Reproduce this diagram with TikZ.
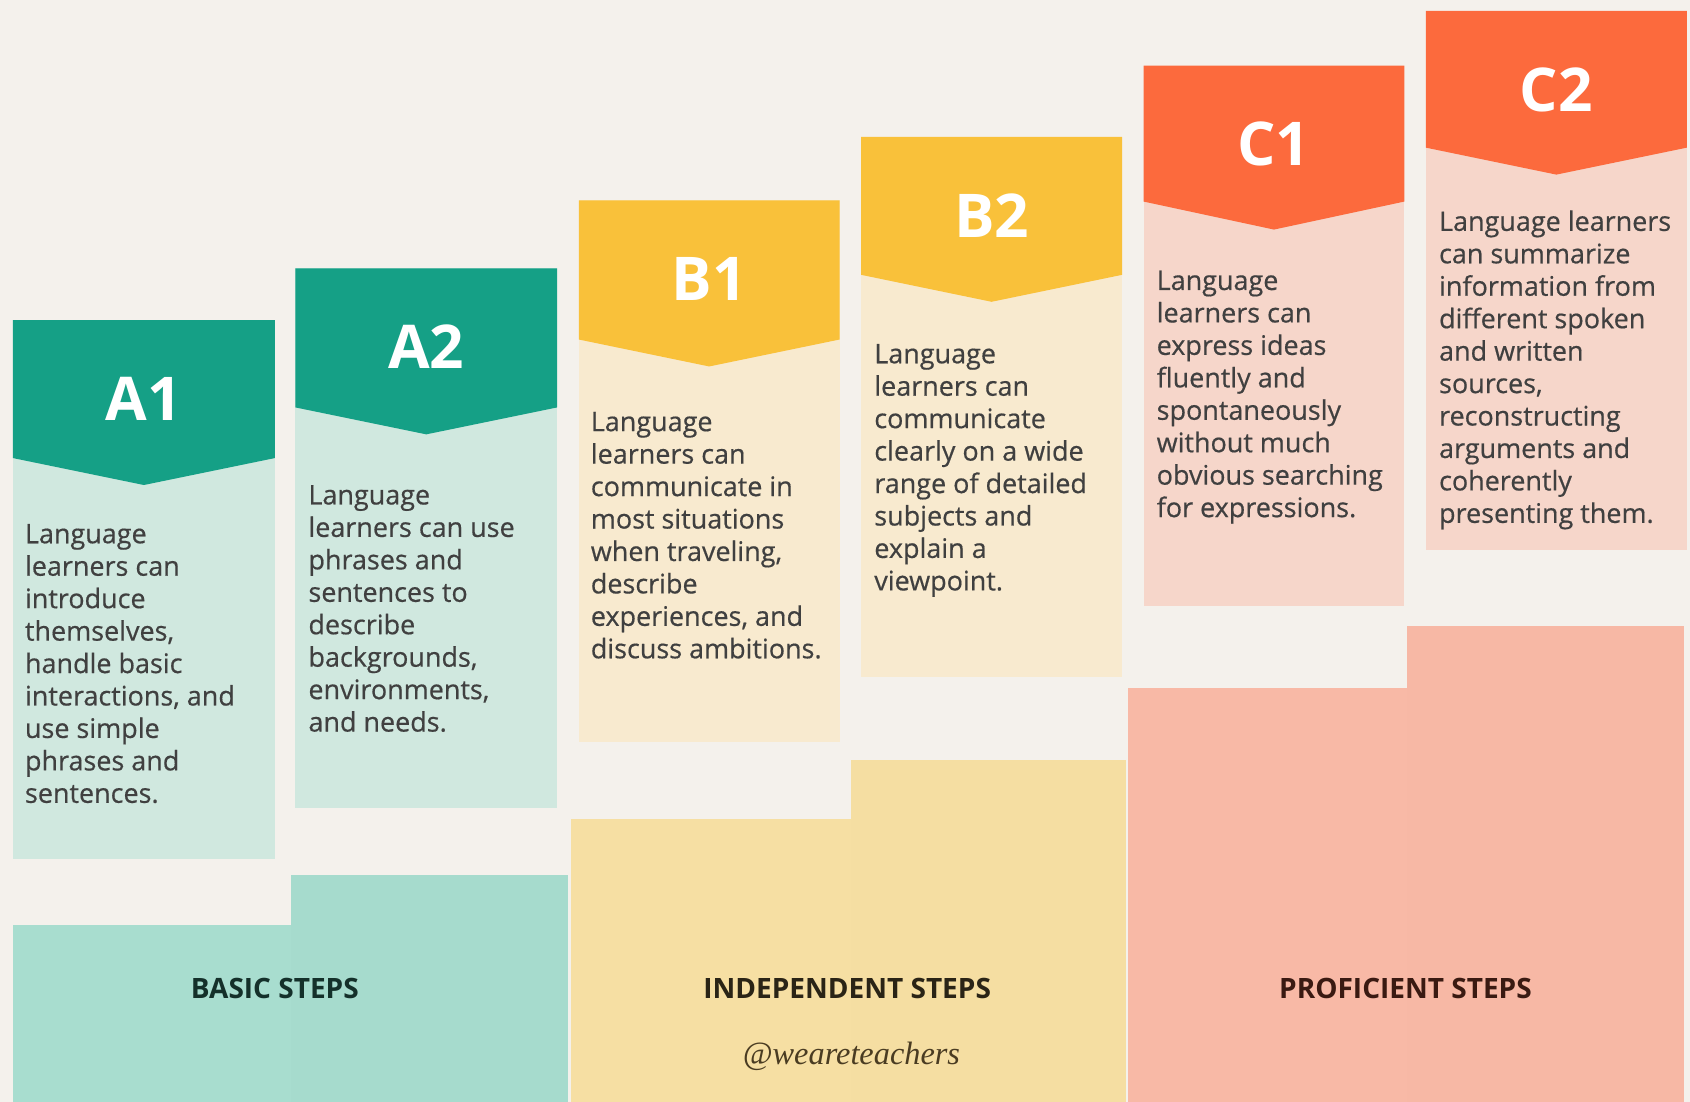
\documentclass[tikz,border=0pt]{standalone}
\usepackage{fontspec}
\setmainfont{Open Sans}
\newfontfamily\bodyfont[FakeBold=0.5]{Open Sans}
\newfontfamily\handfont{Liberation Serif}
\definecolor{bgc}{HTML}{F4F1EC}
\definecolor{tealD}{HTML}{15A086}
\definecolor{tealL}{HTML}{D0E8DF}
\definecolor{tealB}{HTML}{A8DDCF}
\definecolor{yelD}{HTML}{F9C13A}
\definecolor{yelL}{HTML}{F8EACF}
\definecolor{yelB}{HTML}{F6DFA3}
\definecolor{oraD}{HTML}{FC6A3D}
\definecolor{oraL}{HTML}{F6D6CA}
\definecolor{oraB}{HTML}{F8B9A6}
\definecolor{bodytxt}{HTML}{404040}
\definecolor{basicT}{HTML}{14302A}
\definecolor{indepT}{HTML}{2A2416}
\definecolor{profT}{HTML}{3A1A12}
\definecolor{handT}{HTML}{4A3C22}
\newcommand\mycol[9]{%
  \fill[#8] (#1,#3) rectangle (#2,#6);
  \fill[#7] (#1,#3) -- (#2,#3) -- (#2,#4) -- ({(#1+#2)/2},#5) -- (#1,#4) -- cycle;
  \node[lvl] (#9) at ({(#1+#2)/2},{#3+73}) {#9};
}
\begin{document}
\begin{tikzpicture}[x=1pt,y=-1pt,
  lvl/.style={font=\fontsize{56}{60}\selectfont\bfseries, text=white, inner sep=0pt, anchor=center},
  desc/.style={font=\bodyfont\fontsize{25}{30.1}\selectfont, text=bodytxt, align=left, inner sep=0pt, anchor=north west},
  steplbl/.style={font=\fontsize{26}{30}\selectfont\bfseries, inner sep=0pt, anchor=center}]
\fill[bgc] (0,0) rectangle (1568,1022);
\useasboundingbox (0,0) rectangle (1568,1022);
% bottom steps
\fill[tealB] (12,858) rectangle (270,1022);
\fill[tealB!99!black] (270,812) rectangle (527,1022);
\fill[yelB] (530,760) rectangle (790,1022);
\fill[yelB!99.5!black] (790,705) rectangle (1045,1022);
\fill[oraB] (1047,638) rectangle (1305,1022);
\fill[oraB!99.5!black] (1305,581) rectangle (1562,1022);
% columns
\mycol{12}{255}{297}{425}{450}{797}{tealD}{tealL}{A1}
\mycol{274}{517}{249}{378}{403}{750}{tealD}{tealL}{A2}
\mycol{537}{779}{186}{315}{340}{688}{yelD}{yelL}{B1}
\mycol{799}{1041}{127}{255}{280}{628}{yelD}{yelL}{B2}
\mycol{1061}{1303}{61}{187}{213}{562}{oraD}{oraL}{C1}
\mycol{1323}{1565}{10}{137}{162}{510}{oraD}{oraL}{C2}
% descriptions
\node[desc] (tA1) at (23,486) {Language\\learners can\\introduce\\themselves,\\handle basic\\interactions, and\\use simple\\phrases and\\sentences.};
\node[desc] (tA2) at (286,450) {Language\\learners can use\\phrases and\\sentences to\\describe\\backgrounds,\\environments,\\and needs.};
\node[desc] (tB1) at (548,382) {Language\\learners can\\communicate in\\most situations\\when traveling,\\describe\\experiences, and\\discuss ambitions.};
\node[desc] (tB2) at (811,319) {Language\\learners can\\communicate\\clearly on a wide\\range of detailed\\subjects and\\explain a\\viewpoint.};
\node[desc] (tC1) at (1073,251) {Language\\learners can\\express ideas\\fluently and\\spontaneously\\without much\\obvious searching\\for expressions.};
\node[desc] (tC2) at (1335,195) {Language learners\\can summarize\\information from\\different spoken\\and written\\sources,\\reconstructing\\arguments and\\coherently\\presenting them.};
% step labels
\node[steplbl, text=basicT] (basic) at (255,917) {BASIC STEPS};
\node[steplbl, text=indepT] (indep) at (786,917) {INDEPENDENT STEPS};
\node[steplbl, text=profT] (prof) at (1304,917) {PROFICIENT STEPS};
\node[font=\handfont\itshape\fontsize{30}{32}\selectfont, text=handT, inner sep=0pt] (handle) at (790,980) {@weareteachers};
\end{tikzpicture}
\end{document}
